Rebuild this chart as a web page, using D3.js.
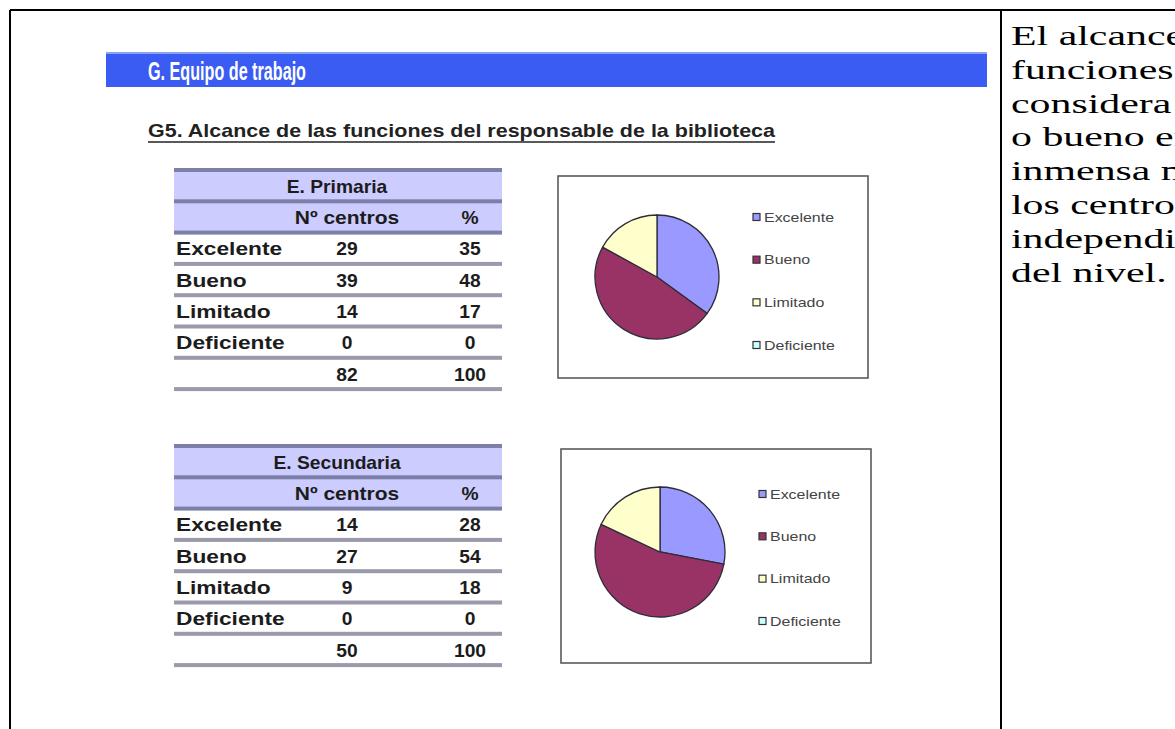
<!DOCTYPE html>
<html>
<head>
<meta charset="utf-8">
<script src="https://cdn.jsdelivr.net/npm/d3@7"></script>
<style>
  html, body { margin: 0; padding: 0; background: #fff; overflow: hidden; }
  svg { display: block; }
</style>
</head>
<body>
<svg id="page" width="1175" height="729"></svg>
<script>
// Rating categories shown in both tables and both pie legends
const categories = ["Excelente", "Bueno", "Limitado", "Deficiente"];

// E. Primaria: number of schools and percentage per rating
const primariaCounts = [29, 39, 14, 0];
const primariaPct = [35, 48, 17, 0];
const primariaTotals = [82, 100];

// E. Secundaria: number of schools and percentage per rating
const secundariaCounts = [14, 27, 9, 0];
const secundariaPct = [28, 54, 18, 0];
const secundariaTotals = [50, 100];

// Column headings
const colHeads = ["Nº centros", "%"];

// Commentary on the right-hand column
const noteLines = [
  "El alcance de las",
  "funciones del responsable se",
  "considera excelente",
  "o bueno en la",
  "inmensa mayoría de",
  "los centros,",
  "independientemente",
  "del nivel."
];

const sliceColor = d3.scaleOrdinal()
  .domain(categories)
  .range(["#9999ff", "#993366", "#ffffcc", "#ccffff"]);

const svg = d3.select("#page");
svg.append("rect").attr("width", 1175).attr("height", 729).attr("fill", "#fff");

const SANS = "'Liberation Sans', Arial, sans-serif";
const SERIF = "'Liberation Serif', 'Times New Roman', serif";

// Text drawn with a horizontal stretch around its anchor point
function wideText(g, x, y, txt, opts) {
  const o = Object.assign({ size: 16, sx: 1, anchor: "start", weight: "normal", fill: "#222", family: SANS }, opts);
  return g.append("text")
    .attr("transform", `translate(${x},${y}) scale(${o.sx},1)`)
    .attr("text-anchor", o.anchor)
    .attr("font-family", o.family)
    .attr("font-size", o.size)
    .attr("font-weight", o.weight)
    .attr("fill", o.fill)
    .text(txt);
}

// ---- page frame ----
const frame = svg.append("g").attr("stroke", "#000").attr("stroke-width", 2);
frame.append("line").attr("x1", 10).attr("y1", 10).attr("x2", 1175).attr("y2", 10);
frame.append("line").attr("x1", 10).attr("y1", 10).attr("x2", 10).attr("y2", 729);
frame.append("line").attr("x1", 1001).attr("y1", 10).attr("x2", 1001).attr("y2", 729);

// ---- section banner ----
svg.append("rect").attr("x", 106).attr("y", 52).attr("width", 881).attr("height", 35).attr("fill", "#3a5cf2");
svg.append("rect").attr("x", 106).attr("y", 52).attr("width", 881).attr("height", 2).attr("fill", "#8aa3f2");
svg.append("text")
  .attr("x", 148).attr("y", 80)
  .attr("font-family", SANS).attr("font-size", 26).attr("font-weight", "bold")
  .attr("fill", "#fff")
  .attr("textLength", 158).attr("lengthAdjust", "spacingAndGlyphs")
  .text("G. Equipo de trabajo");

// ---- chart subtitle ----
svg.append("text")
  .attr("x", 148).attr("y", 137)
  .attr("font-family", SANS).attr("font-size", 19).attr("font-weight", "bold")
  .attr("fill", "#222")
  .attr("textLength", 627).attr("lengthAdjust", "spacingAndGlyphs")
  .text("G5. Alcance de las funciones del responsable de la biblioteca");
svg.append("line").attr("x1", 148).attr("x2", 775).attr("y1", 142).attr("y2", 142)
  .attr("stroke", "#222").attr("stroke-width", 1.7);

// ---- data table ----
function drawTable(top, title, counts, pct, totals) {
  const g = svg.append("g");
  const rowH = 31.3;
  const x0 = 174, x1 = 502;
  const xCount = 347, xPct = 470;
  const nRows = 7;
  const y = d3.scaleLinear().domain([0, nRows]).range([top, top + rowH * nRows]);

  // lavender header band
  g.append("rect").attr("x", x0).attr("y", y(0)).attr("width", x1 - x0).attr("height", y(2) - y(0)).attr("fill", "#ccccff");

  // row rules
  d3.range(nRows + 1).forEach(i => {
    g.append("rect")
      .attr("x", x0).attr("y", y(i) - 2).attr("width", x1 - x0).attr("height", 4)
      .attr("fill", i <= 2 ? "#7c7fa8" : "#9a9aaa");
  });

  const txt = { size: 17.5, sx: 1.3, weight: "bold", fill: "#1c1c1c" };
  const num = Object.assign({}, txt, { anchor: "middle", sx: 1.1 });
  const base = i => y(i) + rowH * 0.73;

  wideText(g, 337, base(0), title, Object.assign({}, txt, { anchor: "middle", sx: 1.1 }));
  wideText(g, xCount, base(1), colHeads[0], Object.assign({}, txt, { anchor: "middle", sx: 1.2 }));
  wideText(g, xPct, base(1), colHeads[1], num);

  categories.forEach((c, i) => {
    wideText(g, 176, base(i + 2), c, txt);
    wideText(g, xCount, base(i + 2), counts[i], num);
    wideText(g, xPct, base(i + 2), pct[i], num);
  });
  wideText(g, xCount, base(6), totals[0], num);
  wideText(g, xPct, base(6), totals[1], num);
}

// ---- pie chart with legend ----
function drawPie(box, cx, cy, r, pct, legX, legY) {
  const g = svg.append("g");
  g.append("rect")
    .attr("x", box[0]).attr("y", box[1]).attr("width", box[2] - box[0]).attr("height", box[3] - box[1])
    .attr("fill", "#fff").attr("stroke", "#5a5a5a").attr("stroke-width", 1.6);

  const pie = d3.pie().sort(null).value(d => d.v);
  const arc = d3.arc().innerRadius(0).outerRadius(r);
  const data = pie(categories.map((c, i) => ({ c, v: pct[i] })));

  g.append("g").attr("transform", `translate(${cx},${cy})`)
    .selectAll("path").data(data.filter(d => d.data.v > 0)).join("path")
    .attr("d", arc)
    .attr("fill", d => sliceColor(d.data.c))
    .attr("stroke", "#2d2d3a").attr("stroke-width", 1.3);

  const ly = d3.scalePoint().domain(categories).range(legY);
  const leg = g.append("g");
  categories.forEach(c => {
    leg.append("rect")
      .attr("x", legX).attr("y", ly(c) - 3.5).attr("width", 7).attr("height", 7)
      .attr("fill", sliceColor(c)).attr("stroke", "#333").attr("stroke-width", 1.2);
    wideText(leg, legX + 11, ly(c) + 4.5, c, { size: 12, sx: 1.33, fill: "#444" });
  });
}

drawTable(170, "E. Primaria", primariaCounts, primariaPct, primariaTotals);
drawPie([558, 176, 868, 378], 657, 277, 62, primariaPct, 753, [217, 345]);

drawTable(446, "E. Secundaria", secundariaCounts, secundariaPct, secundariaTotals);
drawPie([561, 449, 871, 663], 660, 552, 65, secundariaPct, 759, [494, 621]);

// ---- commentary column ----
const note = svg.append("g");
noteLines.forEach((t, i) => {
  wideText(note, 1011, 45 + i * 33.8, t, { size: 27, sx: 1.55, family: SERIF, fill: "#000" });
});
</script>
</body>
</html>
